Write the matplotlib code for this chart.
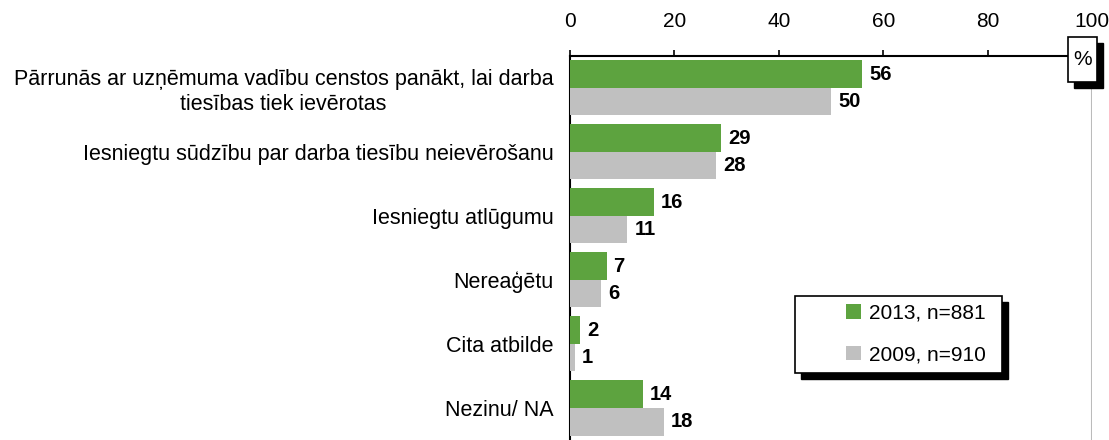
import numpy as np
import matplotlib.pyplot as plt
from matplotlib.patches import Rectangle

plt.rcParams['font.family'] = ['Liberation Sans', 'DejaVu Sans']

categories = [
    'Pārrunās ar uzņēmuma vadību censtos panākt, lai darba\ntiesības tiek ievērotas',
    'Iesniegtu sūdzību par darba tiesību neievērošanu',
    'Iesniegtu atlūgumu',
    'Nereaģētu',
    'Cita atbilde',
    'Nezinu/ NA',
]
vals_2013 = [56, 29, 16, 7, 2, 14]
vals_2009 = [50, 28, 11, 6, 1, 18]
series_labels = ['2013, n=881', '2009, n=910']

green = '#5DA33F'
gray = '#C0C0C0'

fig = plt.figure(figsize=(11.09, 4.40), dpi=100)
ax = fig.add_axes([0.514, 0.0, 0.4707, 0.873])

y = np.arange(len(categories))
h = 0.43
b1 = ax.barh(y - h / 2, vals_2013, height=h, color=green, label=series_labels[0], zorder=3)
b2 = ax.barh(y + h / 2, vals_2009, height=h, color=gray, label=series_labels[1], zorder=3)

for bars, vals in ((b1, vals_2013), (b2, vals_2009)):
    for bar, v in zip(bars, vals):
        ax.annotate(str(v), (v, bar.get_y() + bar.get_height() / 2),
                    xytext=(5, 0), textcoords='offset points',
                    va='center', ha='left', fontsize=14.5, fontweight='bold')

ax.set_xlim(0, 100)
ax.set_ylim(len(categories) - 0.5, -0.5)
ax.set_xticks([0, 20, 40, 60, 80, 100])
ax.xaxis.tick_top()
ax.tick_params(axis='x', direction='out', length=4, width=1.2, labelsize=15, pad=14)
ax.set_yticks(y)
ax.set_yticklabels(categories, fontsize=15.5, ha='right', multialignment='center',
                   linespacing=1.25)
ax.tick_params(axis='y', length=0, pad=12)

for s in ['right', 'bottom']:
    ax.spines[s].set_visible(False)
ax.spines['top'].set_linewidth(1.5)
ax.spines['left'].set_linewidth(1.5)

ax.axvline(100, ymax=0.93, color='#BBBBBB', lw=1.5, zorder=1)

# % box with black shadow
bx, by, bw, bh = 0.954, 0.932, 0.056, 0.117
ax.add_patch(Rectangle((bx + 0.0115, by - 0.0156), bw, bh, transform=ax.transAxes,
                       fc='black', ec='black', zorder=6, clip_on=False))
ax.add_patch(Rectangle((bx, by), bw, bh, transform=ax.transAxes,
                       fc='white', ec='black', lw=1.2, zorder=7, clip_on=False))
ax.text(bx + bw / 2, 0.99, '%', transform=ax.transAxes, fontsize=15,
        ha='center', va='center', zorder=8)

# legend frame with black shadow
lx, ly, lw_, lh = 0.431, 0.1745, 0.397, 0.2005
ax.add_patch(Rectangle((lx + 0.0115, ly - 0.0156), lw_, lh, transform=ax.transAxes,
                       fc='black', ec='black', zorder=8))
ax.add_patch(Rectangle((lx, ly), lw_, lh, transform=ax.transAxes,
                       fc='white', ec='black', lw=1.2, zorder=9))

leg = ax.legend(loc='center left', bbox_to_anchor=(0.529, 0.276), frameon=False,
                fontsize=15, handlelength=0.7, handleheight=0.7, handletextpad=0.4,
                labelspacing=1.1, borderpad=0, borderaxespad=0)
leg.set_zorder(10)

fig.savefig('out.png', dpi=100)
